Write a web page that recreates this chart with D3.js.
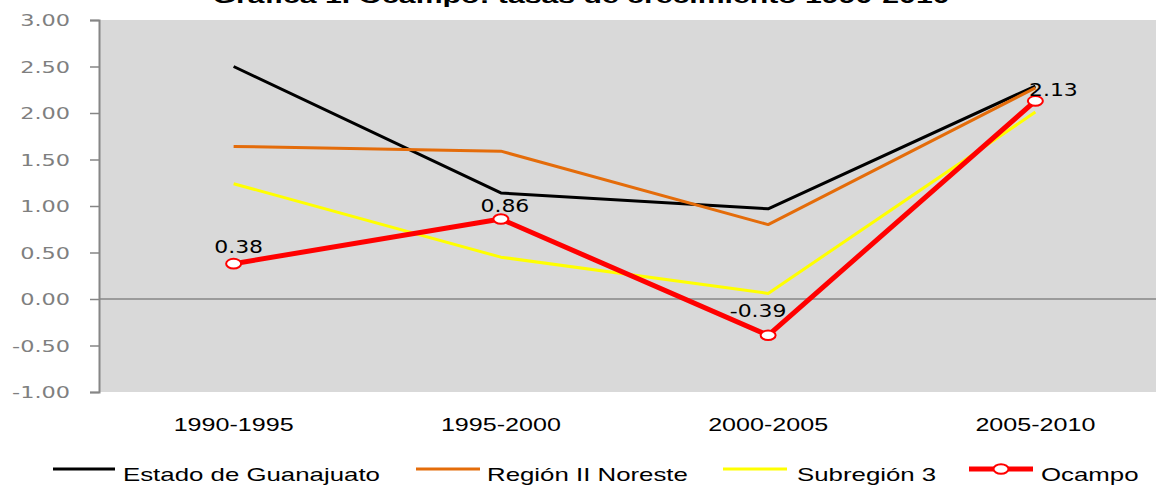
<!DOCTYPE html>
<html>
<head>
<meta charset="utf-8">
<script src="https://cdn.jsdelivr.net/npm/d3@7"></script>
<style>
  body { margin: 0; background: #fff; }
  svg { display: block; }
</style>
</head>
<body>
<svg id="chart" width="1156" height="485"></svg>
<script>
// periods on the x axis
var categories = ["1990-1995", "1995-2000", "2000-2005", "2005-2010"];

// growth rates
var guanajuato = [2.50, 1.14, 0.97, 2.29];
var regionII   = [1.64, 1.59, 0.80, 2.27];
var subregion3 = [1.24, 0.45, 0.06, 2.01];
var ocampo     = [0.38, 0.86, -0.39, 2.13];

var seriesNames = ["Estado de Guanajuato", "Región II Noreste", "Subregión 3", "Ocampo"];
var yTicks = [-1.00, -0.50, 0.00, 0.50, 1.00, 1.50, 2.00, 2.50, 3.00];

var title = "Gráfica 1. Ocampo: tasas de crecimiento 1990-2010";

var svg = d3.select("#chart");

// plot area (the picture is wider than the page, right edge is cut)
var plotL = 100, plotT = 20, plotB = 392, plotR = 1169;

var x = d3.scaleBand().domain(categories).range([plotL, plotR]);
var y = d3.scaleLinear().domain([-1, 3]).range([plotB, plotT]);
function cx(d, i) { return x(categories[i]) + x.bandwidth() / 2; }

// stretch text horizontally, the source image is squashed wide
function hstretch(sel, sx) {
    sel.each(function() {
        var t = d3.select(this);
        var tx = +t.attr("x") || 0, ty = +t.attr("y") || 0;
        t.attr("x", 0).attr("y", 0)
         .attr("transform", "translate(" + tx + "," + ty + ") scale(" + sx + ",1)");
    });
}

svg.append("rect")
    .attr("x", plotL).attr("y", plotT)
    .attr("width", 1156 - plotL).attr("height", plotB - plotT)
    .attr("fill", "#d9d9d9");

// title, mostly off the top of the picture
svg.append("text")
    .attr("x", 581).attr("y", 3)
    .attr("text-anchor", "middle")
    .attr("textLength", 737)
    .attr("lengthAdjust", "spacingAndGlyphs")
    .style("font-family", "Liberation Sans, Arial, sans-serif")
    .style("font-weight", "bold")
    .style("font-size", "21px")
    .text(title);

// zero line
svg.append("line")
    .attr("x1", plotL - 1).attr("x2", 1156)
    .attr("y1", y(0)).attr("y2", y(0))
    .attr("stroke", "#868686").attr("stroke-width", 1.5);

// y axis
var yAxis = svg.append("g")
    .attr("transform", "translate(" + (plotL - 1) + ",0)")
    .call(d3.axisLeft(y).tickValues(yTicks).tickSize(9).tickSizeOuter(9).tickPadding(20)
        .tickFormat(function(d) { return d.toFixed(2); }));
yAxis.select(".domain").attr("stroke", "#868686").attr("stroke-width", 2);
yAxis.selectAll(".tick line").attr("stroke", "#868686").attr("stroke-width", 1.5);
yAxis.selectAll(".tick text")
    .attr("fill", "#7f7f7f")
    .style("font-family", "DejaVu Sans, Verdana, sans-serif")
    .style("font-size", "16px")
    .attr("dy", "0.36em")
    .attr("x", -29 / 1.4)
    .attr("transform", "scale(1.4,1)");

// x labels
var xl = svg.append("g").selectAll("text")
    .data(categories)
    .join("text")
    .attr("x", function(d) { return x(d) + x.bandwidth() / 2; })
    .attr("y", 431)
    .attr("text-anchor", "middle")
    .style("font-family", "Liberation Sans, Arial, sans-serif")
    .style("font-size", "18px")
    .attr("fill", "#000")
    .text(function(d) { return d; });
var natX = xl.node().getComputedTextLength();
hstretch(xl, 120 / natX);

// lines
var line = d3.line().x(cx).y(function(d) { return y(d); });
var allSeries = [guanajuato, regionII, subregion3, ocampo];
var colors = ["#000000", "#e46c0a", "#ffff00", "#ff0000"];
var widths = [3, 3, 3, 5];

svg.append("g").selectAll("path")
    .data(allSeries)
    .join("path")
    .attr("d", line)
    .attr("fill", "none")
    .attr("stroke", function(d, i) { return colors[i]; })
    .attr("stroke-width", function(d, i) { return widths[i]; })
    .attr("stroke-linejoin", "round");

svg.append("g").selectAll("ellipse")
    .data(ocampo)
    .join("ellipse")
    .attr("cx", cx)
    .attr("cy", function(d) { return y(d); })
    .attr("rx", 7.5).attr("ry", 4.8)
    .attr("fill", "#fff")
    .attr("stroke", "#ff0000")
    .attr("stroke-width", 2);

// data labels, nudged like in the source
var labelDx = [5, 4, -10, 18];
var labelDy = [-11, -7, -18, -5];
var dl = svg.append("g").selectAll("text")
    .data(ocampo)
    .join("text")
    .attr("x", function(d, i) { return cx(d, i) + labelDx[i]; })
    .attr("y", function(d, i) { return y(d) + labelDy[i]; })
    .attr("text-anchor", "middle")
    .style("font-family", "DejaVu Sans, Verdana, sans-serif")
    .style("font-size", "18px")
    .attr("fill", "#000")
    .text(function(d) { return d.toFixed(2); });
hstretch(dl, 1.22);

// legend
var legLine = [[53, 115], [416, 480], [723, 787], [969, 1033]];
var legText = [123, 487, 797, 1041];
var legY = 469;

var leg = svg.append("g");
leg.selectAll("line")
    .data(seriesNames)
    .join("line")
    .attr("x1", function(d, i) { return legLine[i][0]; })
    .attr("x2", function(d, i) { return legLine[i][1]; })
    .attr("y1", legY).attr("y2", legY)
    .attr("stroke", function(d, i) { return colors[i]; })
    .attr("stroke-width", function(d, i) { return widths[i]; });
leg.append("ellipse")
    .attr("cx", (legLine[3][0] + legLine[3][1]) / 2)
    .attr("cy", legY)
    .attr("rx", 7.5).attr("ry", 4.8)
    .attr("fill", "#fff").attr("stroke", "#ff0000").attr("stroke-width", 2);
var lt = leg.selectAll("text")
    .data(seriesNames)
    .join("text")
    .attr("x", function(d, i) { return legText[i]; })
    .attr("y", 481)
    .style("font-family", "Liberation Sans, Arial, sans-serif")
    .style("font-size", "18px")
    .attr("fill", "#000")
    .text(function(d) { return d; });
var natL = lt.node().getComputedTextLength();
hstretch(lt, 257 / natL);
</script>
</body>
</html>
